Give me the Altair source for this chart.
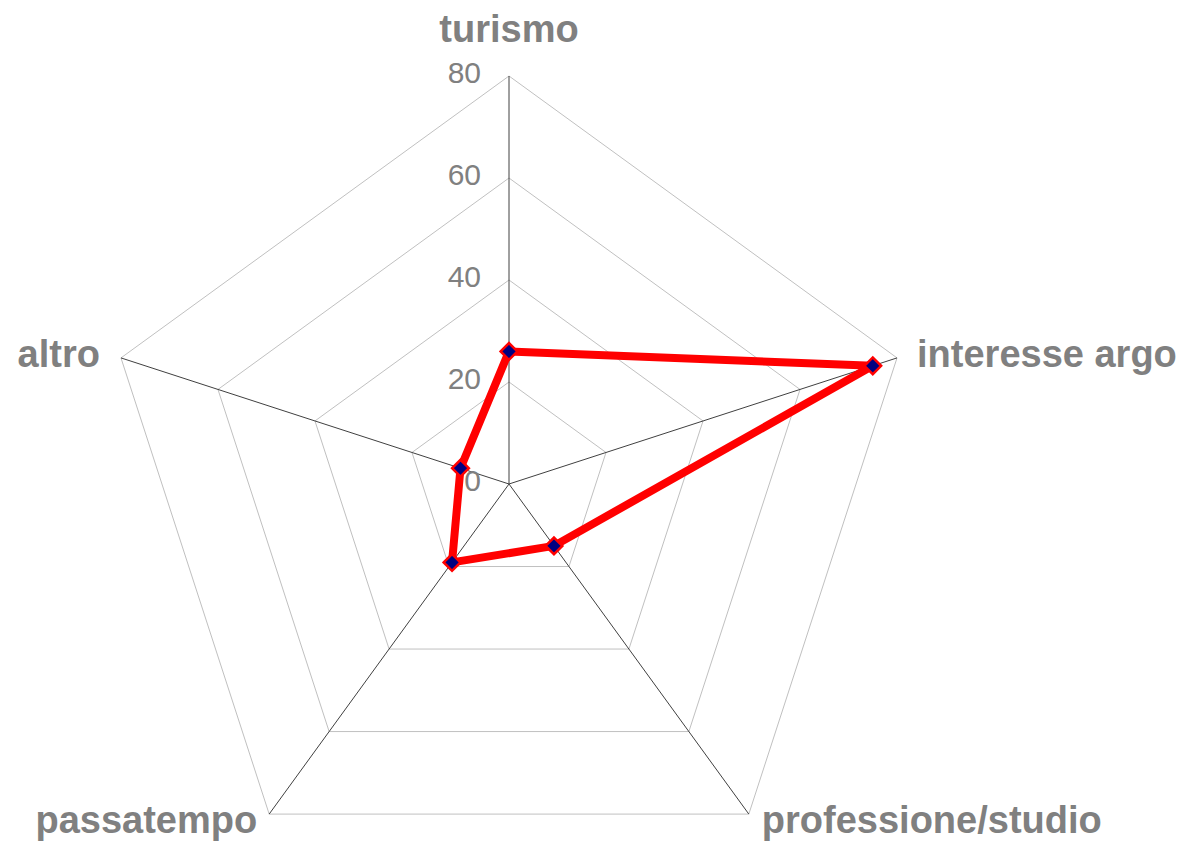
import numpy as np
import pandas as pd
import altair as alt

# ---- data ----
categories = ["turismo", "interesse argo", "professione/studio", "passatempo", "altro"]
values = [26, 75, 15, 19, 10]
tick_values = [0, 20, 40, 60, 80]
tick_labels = ["0", "20", "40", "60", "80"]
r_max = 80

# ---- label placement styles (offsets in px) ----
label_align = ["center", "left", "left", "right", "right"]
label_dx = [0, 20, 13, -12, -21]
label_dy = [-34, 9, 19, 19, 9]

n = len(categories)
angles = [2 * np.pi * i / n for i in range(n)]


def polar(v, a):
    return v * np.sin(a), v * np.cos(a)


# series (closed polygon)
ser_rows = []
for i in range(n + 1):
    k = i % n
    x, y = polar(values[k], angles[k])
    ser_rows.append({"cat": categories[k], "value": values[k], "x": x, "y": y, "order": i})
ser_df = pd.DataFrame(ser_rows)
pts_df = ser_df.iloc[:n]

# grid pentagons
grid_rows = []
for t in tick_values[1:]:
    for i in range(n + 1):
        k = i % n
        x, y = polar(t, angles[k])
        grid_rows.append({"level": t, "x": x, "y": y, "order": i})
grid_df = pd.DataFrame(grid_rows)

# spokes
spoke_rows = []
for k in range(n):
    x, y = polar(r_max, angles[k])
    spoke_rows.append({"cat": categories[k], "x": 0.0, "y": 0.0, "x2": x, "y2": y})
spoke_df = pd.DataFrame(spoke_rows)

# category labels
lab_rows = []
for k in range(n):
    x, y = polar(r_max, angles[k])
    lab_rows.append({"cat": categories[k], "x": x, "y": y})
lab_df = pd.DataFrame(lab_rows)

# tick labels
tick_df = pd.DataFrame({"t": tick_values, "label": tick_labels, "x": [0.0] * len(tick_values)})

# ---- scales (center at ~ (509, 484), 80 -> 408 px) ----
W, H = 1195, 847
cx, cy = 509, 484
k = 408 / r_max
xs = alt.Scale(domain=[-cx / k, (W - cx) / k], nice=False, zero=False)
ys = alt.Scale(domain=[-(H - cy) / k, cy / k], nice=False, zero=False)
X = lambda f="x": alt.X(f, type="quantitative", scale=xs, axis=None)
Y = lambda f="y": alt.Y(f, type="quantitative", scale=ys, axis=None)

grid = alt.Chart(grid_df).mark_line(color="#c0c0c0", strokeWidth=1).encode(
    x=X(), y=Y(), detail="level:N", order="order:Q"
)

spokes = alt.Chart(spoke_df).mark_rule(color="#404040", strokeWidth=1).encode(
    x=X(), y=Y(), x2="x2:Q", y2="y2:Q"
)

ticks = alt.Chart(tick_df).mark_text(
    align="right", baseline="middle", dx=-28, dy=-2,
    font="Liberation Sans", fontSize=30, color="#808080"
).encode(x=X(), y=Y("t"), text="label:N")

line = alt.Chart(ser_df).mark_line(
    color="#ff0000", strokeWidth=8, strokeJoin="round"
).encode(x=X(), y=Y(), order="order:Q")

points = alt.Chart(pts_df).mark_point(
    shape="diamond", filled=True, fill="#000080", stroke="#ff0000",
    strokeWidth=2.5, size=280, opacity=1
).encode(x=X(), y=Y())

labels = []
for i in range(n):
    labels.append(
        alt.Chart(lab_df.iloc[[i]]).mark_text(
            align=label_align[i], baseline="alphabetic",
            dx=label_dx[i], dy=label_dy[i],
            font="Liberation Sans", fontWeight="bold", fontSize=38, color="#808080"
        ).encode(x=X(), y=Y(), text="cat:N")
    )

chart = alt.layer(grid, spokes, ticks, line, points, *labels).properties(
    width=W, height=H, padding=0, autosize=alt.AutoSizeParams(type="none"),
    background="white"
).configure_view(stroke=None)

chart.save("out.html", embed_options={"renderer": "svg", "actions": False})
